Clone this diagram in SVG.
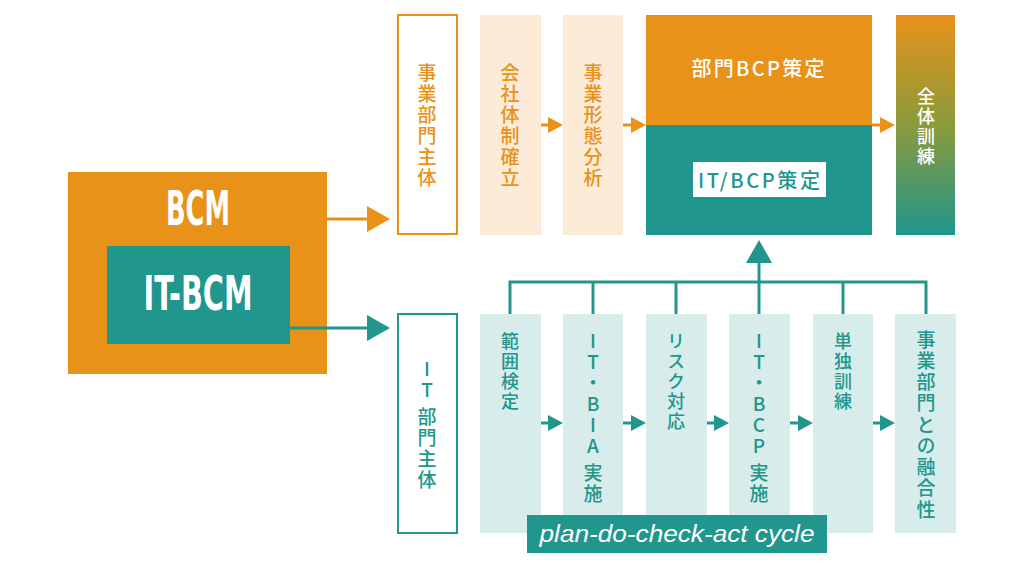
<svg xmlns="http://www.w3.org/2000/svg" width="1024" height="570" viewBox="0 0 1024 570">
<defs>
<linearGradient id="grad" x1="0" y1="0" x2="0" y2="1">
<stop offset="0" stop-color="#E8921A"/>
<stop offset="0.5" stop-color="#8C9A3C"/>
<stop offset="1" stop-color="#20968C"/>
</linearGradient>
<style>
.or{fill:#E8921A}
.tl{fill:#20968C}
.lo{fill:#FCEBD6}
.lt{fill:#D8EDEB}
.jp{font-family:"Noto Sans CJK JP","Noto Sans",sans-serif;font-size:20px;font-weight:500;text-anchor:middle}
.vt{font-family:"Noto Sans CJK JP","Noto Sans",sans-serif;font-size:19px;font-weight:500;writing-mode:vertical-rl;text-orientation:upright;letter-spacing:2px}
.big{font-family:"DejaVu Sans","Liberation Sans",sans-serif;font-stretch:condensed;font-weight:bold;font-size:48px;fill:#fff}
.ol{stroke:#E8921A;stroke-width:3;fill:none}
.tln{stroke:#20968C;stroke-width:3;fill:none}
.w{fill:#fff}
</style>
</defs>
<rect width="1024" height="570" fill="#fff"/>

<g id="bcm">
<rect x="68" y="172" width="259" height="202" class="or"/>
<text x="198" y="225" class="big" text-anchor="middle" textLength="64" lengthAdjust="spacingAndGlyphs">BCM</text>
</g>
<g id="itbcm">
<rect x="107" y="246" width="183" height="98" class="tl"/>
<text x="198" y="310" class="big" text-anchor="middle" textLength="109" lengthAdjust="spacingAndGlyphs">IT-BCM</text>
</g>

<g id="jigyo-shutai">
<rect x="398" y="15" width="59" height="219" fill="#fff" stroke="#E8921A" stroke-width="2"/>
<text x="427" y="63" class="vt or">事業部門主体</text>
</g>
<g id="kaisha">
<rect x="480" y="15" width="61" height="220" class="lo"/>
<text x="510" y="63" class="vt or">会社体制確立</text>
</g>
<g id="keitai">
<rect x="563" y="15" width="60" height="220" class="lo"/>
<text x="593" y="63" class="vt or">事業形態分析</text>
</g>
<g id="bcp">
<rect x="646" y="15" width="226" height="110" class="or"/>
<rect x="646" y="125" width="226" height="110" class="tl"/>
<text x="758" y="76" class="jp w" textLength="133" lengthAdjust="spacing">部門BCP策定</text>
<rect x="693" y="162" width="133" height="35" class="w"/>
<text x="759" y="188" class="jp tl" textLength="122" lengthAdjust="spacing">IT/BCP策定</text>
</g>
<g id="zentai">
<rect x="896" y="15" width="59" height="220" fill="url(#grad)"/>
<text x="926" y="87" class="vt w" style="font-size:18px">全体訓練</text>
</g>

<g id="it-shutai">
<rect x="398" y="314" width="59" height="219" fill="#fff" stroke="#20968C" stroke-width="2"/>
<text x="427" y="359" class="vt tl">IT<tspan dy="6">部門主体</tspan></text>
</g>
<g id="hani">
<rect x="480" y="314" width="61" height="219" class="lt"/>
<text x="510" y="332" class="vt tl" style="font-size:18px">範囲検定</text>
</g>
<g id="bia">
<rect x="563" y="314" width="60" height="219" class="lt"/>
<text x="593" y="331" class="vt tl">IT・BIA<tspan dy="6">実施</tspan></text>
</g>
<g id="risk">
<rect x="646" y="314" width="61" height="219" class="lt"/>
<text x="676" y="332" class="vt tl" style="font-size:18px">リスク対応</text>
</g>
<g id="itbcp">
<rect x="729" y="314" width="61" height="219" class="lt"/>
<text x="759" y="331" class="vt tl">IT・BCP<tspan dy="6">実施</tspan></text>
</g>
<g id="tandoku">
<rect x="813" y="314" width="60" height="219" class="lt"/>
<text x="843" y="332" class="vt tl" style="font-size:18px">単独訓練</text>
</g>
<g id="yugo">
<rect x="895" y="314" width="61" height="219" class="lt"/>
<text x="926" y="330" class="vt tl" style="letter-spacing:2.25px">事業部門との融合性</text>
</g>
<g id="pdca">
<rect x="527" y="515" width="300" height="38" class="tl"/>
<text x="677" y="542" font-family="'Liberation Sans',sans-serif" font-style="italic" font-size="23" fill="#fff" text-anchor="middle" textLength="275" lengthAdjust="spacingAndGlyphs">plan-do-check-act cycle</text>
</g>

<g id="connectors">
<line x1="327" y1="219" x2="368" y2="219" class="ol"/>
<polygon points="367,206 390,219 367,232" class="or"/>
<line x1="290" y1="328" x2="368" y2="328" class="tln"/>
<polygon points="367,315 390,328 367,341" class="tl"/>

<line x1="541" y1="125" x2="549" y2="125" class="ol"/>
<polygon points="548,117 563,125 548,133" class="or"/>
<line x1="623" y1="125" x2="632" y2="125" class="ol"/>
<polygon points="631,117 646,125 631,133" class="or"/>
<line x1="872" y1="125" x2="881" y2="125" class="ol"/>
<polygon points="880,117 895,125 880,133" class="or"/>

<line x1="541" y1="423" x2="549" y2="423" class="tln"/>
<polygon points="548,415 563,423 548,431" class="tl"/>
<line x1="623" y1="423" x2="632" y2="423" class="tln"/>
<polygon points="631,415 646,423 631,431" class="tl"/>
<line x1="707" y1="423" x2="715" y2="423" class="tln"/>
<polygon points="714,415 729,423 714,431" class="tl"/>
<line x1="790" y1="423" x2="799" y2="423" class="tln"/>
<polygon points="798,415 813,423 798,431" class="tl"/>
<line x1="873" y1="423" x2="881" y2="423" class="tln"/>
<polygon points="880,415 895,423 880,431" class="tl"/>

<polyline points="510,314 510,282 926,282 926,314" class="tln"/>
<line x1="593" y1="282" x2="593" y2="314" class="tln"/>
<line x1="676" y1="282" x2="676" y2="314" class="tln"/>
<line x1="843" y1="282" x2="843" y2="314" class="tln"/>
<line x1="759" y1="314" x2="759" y2="262" class="tln"/>
<polygon points="746,263 759,240 772,263" class="tl"/>
</g>
</svg>
